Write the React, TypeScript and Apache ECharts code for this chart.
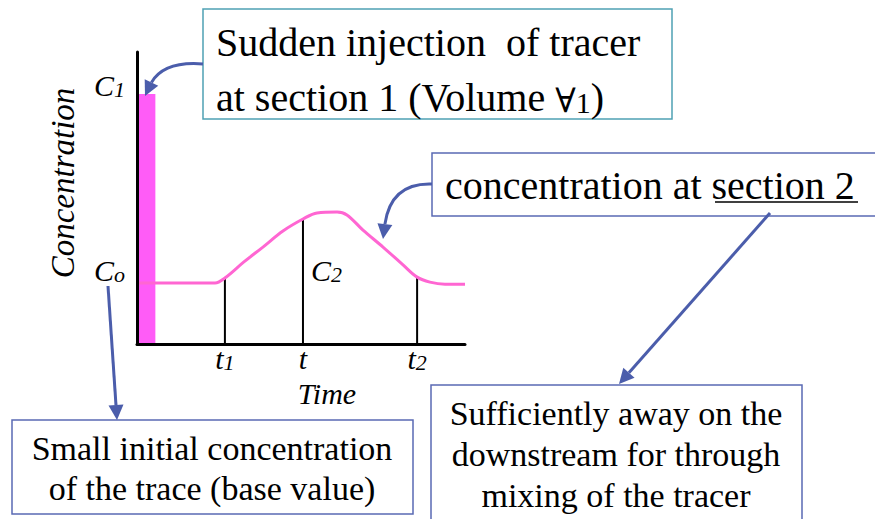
import React, { useEffect, useRef } from "react";
import * as echarts from "echarts";

// ---- data (time and concentration in arbitrary units 0..100) ----
const timeValues = [0, 23.8, 26.8, 32.6, 38.4, 44.5, 50.6, 54.9, 61.0, 64.0, 68.9, 75.0, 81.1, 85.4, 89.3, 93.9, 100];
const concValues = [20.9, 20.9, 22.6, 28.1, 33.2, 38.7, 42.8, 44.9, 45.2, 44.2, 39.0, 33.2, 27.1, 22.9, 21.2, 20.5, 20.5];
const injectionTime = [0, 5.6];
const injectionPeak = 85.6;
const markTimes = [26.8, 50.6, 85.4];
const markConcs = [22.6, 42.8, 22.9];
const xTickMain = ["t", "t", "t"];
const xTickSub = ["1", "", "2"];
const yTickValues = [25.2, 88.4];
const yTickMain = ["C", "C"];
const yTickSub = ["o", "1"];

const SERIF = "Liberation Serif";
const BLUE = "#4b5dab";
const BOX_BLUE = "#5a6ab4";
const TEAL = "#4fa1b4";

function arrowHead(tx: number, ty: number, fx: number, fy: number, len = 15, half = 7.5) {
  const dx = tx - fx;
  const dy = ty - fy;
  const d = Math.hypot(dx, dy);
  const ux = dx / d;
  const uy = dy / d;
  const bx = tx - ux * len;
  const by = ty - uy * len;
  const px = -uy;
  const py = ux;
  return {
    base: [bx, by],
    points: [
      [tx, ty],
      [bx + px * half, by + py * half],
      [bx - px * half, by - py * half],
    ],
  };
}

function txt(x: number, y: number, text: string, fontSize: number, align = "left", extra: any = {}) {
  return {
    type: "text",
    x,
    y,
    z: 10,
    style: {
      text,
      fontFamily: SERIF,
      fontSize,
      fill: "#000",
      align,
      verticalAlign: "middle",
      ...extra,
    },
  };
}

export default function App() {
  const ref = useRef<HTMLDivElement>(null);
  useEffect(() => {
    if (!ref.current) return;
    const chart = echarts.init(ref.current, undefined, { renderer: "svg" });

    const subRich = (size: number, subSize: number, mainLH: number, subLH: number) => ({
      m: { fontFamily: SERIF, fontStyle: "italic", fontSize: size, lineHeight: mainLH, verticalAlign: "bottom", color: "#000" },
      s: { fontFamily: SERIF, fontStyle: "italic", fontSize: subSize, lineHeight: subLH, verticalAlign: "bottom", color: "#000" },
    });

    // arrows
    const a1 = arrowHead(145, 96, 156, 73);
    const a2 = arrowHead(383, 239, 388, 200);
    const a3 = arrowHead(619, 384, 770, 213);
    const a4 = arrowHead(117, 420, 108, 286);

    const graphics: any[] = [
      // box 1
      { type: "rect", z: 5, shape: { x: 203, y: 9, width: 469, height: 110 }, style: { fill: "#fff", stroke: TEAL, lineWidth: 1.5 } },
      txt(216, 42, "Sudden injection  of tracer", 40, "left", { whiteSpace: "pre" }),
      {
        type: "text",
        x: 216,
        y: 95,
        z: 10,
        style: {
          text: "{n|at section 1 (Volume }{m|∀}{s|1}{n|)}",
          align: "left",
          verticalAlign: "middle",
          rich: {
            n: { fontFamily: SERIF, fontSize: 40, lineHeight: 44, verticalAlign: "bottom", color: "#000" },
            m: { fontFamily: "DejaVu Serif", fontSize: 34, lineHeight: 42, verticalAlign: "bottom", color: "#000" },
            s: { fontFamily: SERIF, fontSize: 30, lineHeight: 24, verticalAlign: "bottom", color: "#000" },
          },
        },
      },
      // box 2
      { type: "rect", z: 5, shape: { x: 432, y: 153, width: 470, height: 63 }, style: { fill: "#fff", stroke: BOX_BLUE, lineWidth: 1.5 } },
      txt(445, 185, "concentration at section 2", 40),
      { type: "line", z: 10, shape: { x1: 715, y1: 202, x2: 858, y2: 202 }, style: { stroke: "#000", lineWidth: 1.5 } },
      // box 3
      { type: "rect", z: 5, shape: { x: 12, y: 420, width: 401, height: 94 }, style: { fill: "#fff", stroke: BOX_BLUE, lineWidth: 1.5 } },
      txt(212, 448, "Small initial concentration", 34, "center"),
      txt(212, 488, "of the trace (base value)", 34, "center"),
      // box 4
      { type: "rect", z: 5, shape: { x: 431, y: 385, width: 371, height: 150 }, style: { fill: "#fff", stroke: BOX_BLUE, lineWidth: 1.5 } },
      txt(616, 413, "Sufficiently away on the", 34, "center"),
      txt(616, 454, "downstream for through", 34, "center"),
      txt(616, 495, "mixing of the tracer", 34, "center"),
      // axis titles
      { ...txt(63, 183, "Concentration", 33, "center", { fontStyle: "italic" }), rotation: Math.PI / 2 },
      txt(327, 393, "Time", 30, "center", { fontStyle: "italic" }),
      {
        type: "text",
        x: 311,
        y: 270,
        z: 10,
        style: { text: "{m|C}{s|2}", align: "left", verticalAlign: "middle", rich: subRich(30, 22, 30, 18) },
      },
      // arrows
      {
        type: "bezierCurve",
        z: 8,
        shape: { x1: 203, y1: 64, cpx1: 178, cpy1: 62, cpx2: 160, cpy2: 68, x2: a1.base[0], y2: a1.base[1] },
        style: { stroke: BLUE, lineWidth: 3, fill: "none" },
      },
      { type: "polygon", z: 8, shape: { points: a1.points }, style: { fill: BLUE } },
      {
        type: "bezierCurve",
        z: 8,
        shape: { x1: 432, y1: 184, cpx1: 405, cpy1: 183, cpx2: 389, cpy2: 196, x2: a2.base[0], y2: a2.base[1] },
        style: { stroke: BLUE, lineWidth: 3, fill: "none" },
      },
      { type: "polygon", z: 8, shape: { points: a2.points }, style: { fill: BLUE } },
      { type: "line", z: 8, shape: { x1: 770, y1: 213, x2: a3.base[0], y2: a3.base[1] }, style: { stroke: BLUE, lineWidth: 3 } },
      { type: "polygon", z: 8, shape: { points: a3.points }, style: { fill: BLUE } },
      { type: "line", z: 8, shape: { x1: 108, y1: 286, x2: a4.base[0], y2: a4.base[1] }, style: { stroke: BLUE, lineWidth: 3 } },
      { type: "polygon", z: 8, shape: { points: a4.points }, style: { fill: BLUE } },
    ];

    chart.setOption({
      animation: false,
      textStyle: { fontFamily: SERIF },
      grid: { left: 137, top: 52, width: 328, height: 292 },
      xAxis: {
        type: "value",
        min: 0,
        max: 100,
        z: 3,
        axisLine: { show: true, onZero: false, lineStyle: { color: "#000", width: 3 } },
        axisTick: { show: false },
        splitLine: { show: false },
        axisLabel: {
          customValues: markTimes,
          margin: -1,
          formatter: (v: number) => {
            const i = markTimes.indexOf(v);
            if (i < 0) return "";
            return xTickSub[i] ? `{m|${xTickMain[i]}}{s|${xTickSub[i]}}` : `{m|${xTickMain[i]}}`;
          },
          rich: subRich(30, 22, 30, 16),
        },
      },
      yAxis: {
        type: "value",
        min: 0,
        max: 100,
        z: 3,
        axisLine: { show: true, onZero: false, lineStyle: { color: "#000", width: 3 } },
        axisTick: { show: false },
        splitLine: { show: false },
        axisLabel: {
          customValues: yTickValues,
          margin: 12,
          formatter: (v: number) => {
            const i = yTickValues.indexOf(v);
            if (i < 0) return "";
            return `{m|${yTickMain[i]}}{s|${yTickSub[i]}}`;
          },
          rich: subRich(30, 22, 30, 18),
        },
      },
      series: [
        {
          type: "custom",
          z: 1,
          data: [[injectionTime[0], injectionTime[1], injectionPeak]],
          renderItem: (params: any, api: any) => {
            const p0 = api.coord([api.value(0), api.value(2)]);
            const p1 = api.coord([api.value(1), 0]);
            return {
              type: "rect",
              shape: { x: p0[0], y: p0[1], width: p1[0] - p0[0], height: p1[1] - p0[1] },
              style: { fill: "#ff5cf7" },
            };
          },
        },
        {
          type: "line",
          z: 2,
          smooth: 0.35,
          symbol: "none",
          lineStyle: { color: "#ff66d2", width: 3 },
          data: timeValues.map((t, i) => [t, concValues[i]]),
        },
        {
          type: "custom",
          z: 2,
          data: markTimes.map((t, i) => [t, markConcs[i]]),
          renderItem: (params: any, api: any) => {
            const top = api.coord([api.value(0), api.value(1)]);
            const bot = api.coord([api.value(0), 0]);
            return {
              type: "line",
              shape: { x1: top[0], y1: top[1], x2: bot[0], y2: bot[1] },
              style: { stroke: "#000", lineWidth: 2 },
            };
          },
        },
      ],
      graphic: graphics,
    });
    return () => chart.dispose();
  }, []);

  return (
    <div
      ref={ref}
      style={{ position: "absolute", left: 0, top: 0, width: 875, height: 519, background: "#fff" }}
    />
  );
}
